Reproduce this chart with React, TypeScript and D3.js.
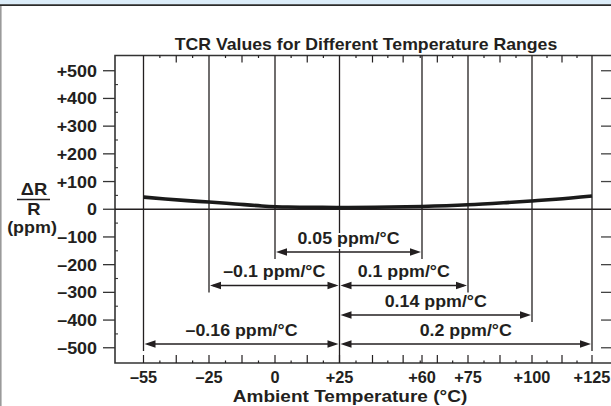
import React, { useEffect, useRef } from 'react';
import * as d3 from 'd3';

// temperature axis (piecewise, as drawn in the datasheet)
const xTickTemps = [-55, -25, 0, 25, 60, 75, 100, 125];
const xTickLabels = ['\u201355', '\u201325', '0', '+25', '+60', '+75', '+100', '+125'];
const xMinorTemps = [-40, -12.5, 12.5, 39, 52, 65, 87.5, 112.5];

const yTicks = [500, 400, 300, 200, 100, 0, -100, -200, -300, -400, -500];
const yTickLabels = ['+500', '+400', '+300', '+200', '+100', '0', '\u2013100', '\u2013200', '\u2013300', '\u2013400', '\u2013500'];

// dR/R curve (ppm)
const curveTemps = [-55, -45, -35, -25, -15, -5, 5, 15, 25, 40, 60, 75, 90, 100, 110, 125];
const curvePpm = [44, 37, 31, 26, 19, 12, 8, 7, 6, 7, 10, 16, 24, 30, 36, 48];

// TCR ranges
const rangeFrom = [0, -25, 25, 25, -55, 25];
const rangeTo = [60, 25, 75, 100, 25, 125];
const rangeRow = [0, 1, 1, 2, 3, 3];
const rangeLabels = ['0.05 ppm/\u00b0C', '\u20130.1 ppm/\u00b0C', '0.1 ppm/\u00b0C', '0.14 ppm/\u00b0C', '\u20130.16 ppm/\u00b0C', '0.2 ppm/\u00b0C'];

const W = 611;
const H = 406;
const FONT = '"Liberation Sans", Arial, Helvetica, sans-serif';
const INK = '#231f20';

const App = () => {
  const ref = useRef(null);

  useEffect(() => {
    const svg = d3.select(ref.current);
    svg.selectAll('*').remove();

    const x = d3.scaleLinear()
      .domain(xTickTemps)
      .range([143.5, 209, 275, 339.5, 422, 468, 532, 592]);
    const y = d3.scaleLinear().domain([-555, 555]).range([363, 55.5]);

    const left = 115;
    const top = y(555);
    const bottom = y(-555);
    const rowY = [252, 285.5, 315, 344];

    const text = (g, tx, ty, s, size, anchor, sx = 1) => g.append('text')
      .attr('transform', `translate(${tx},${ty}) scale(${sx},1)`)
      .attr('text-anchor', anchor)
      .attr('font-family', FONT)
      .attr('font-weight', 'bold')
      .attr('font-size', size)
      .attr('fill', INK)
      .text(s);

    // page frame
    svg.append('rect').attr('x', 0).attr('y', 0).attr('width', W).attr('height', 4.5).attr('fill', '#dcedf9');
    svg.append('line').attr('x1', 0).attr('x2', W).attr('y1', 5.2).attr('y2', 5.2)
      .attr('stroke', '#2b2b2b').attr('stroke-width', 1.8);
    svg.append('line').attr('x1', 0.8).attr('x2', 0.8).attr('y1', 6).attr('y2', H)
      .attr('stroke', '#9a9a9a').attr('stroke-width', 1.6);

    text(svg, 366, 50, 'TCR Values for Different Temperature Ranges', 17, 'middle', 1.04);

    const g = svg.append('g');

    // plot box (right side runs off the page)
    g.append('path')
      .attr('d', `M${W + 20},${top}H${left}V${bottom}H${W + 20}`)
      .attr('fill', 'none').attr('stroke', '#333').attr('stroke-width', 1.6);

    // zero line
    g.append('line').attr('x1', left).attr('x2', W).attr('y1', y(0)).attr('y2', y(0))
      .attr('stroke', INK).attr('stroke-width', 1.5);

    // grid ticks on top / bottom
    const grid = [...xTickTemps.filter(t => t !== 60), ...xMinorTemps].sort((a, b) => a - b);
    g.selectAll('.tmin').data(xMinorTemps).enter().append('line')
      .attr('x1', d => x(d)).attr('x2', d => x(d)).attr('y1', top).attr('y2', top + 7)
      .attr('stroke', INK).attr('stroke-width', 1.2);
    g.selectAll('.bmaj').data([...grid, 60]).enter().append('line')
      .attr('x1', d => x(d)).attr('x2', d => x(d)).attr('y1', bottom - 8).attr('y2', bottom)
      .attr('stroke', INK).attr('stroke-width', 1.2);
    const mids = d3.pairs(grid).map(([a, b]) => (x(a) + x(b)) / 2);
    [top, bottom].forEach((yy, i) => {
      g.selectAll(`.tiny${i}`).data(mids).enter().append('line')
        .attr('x1', d => d).attr('x2', d => d)
        .attr('y1', yy).attr('y2', i === 0 ? yy + 2.5 : yy - 2.5)
        .attr('stroke', INK).attr('stroke-width', 1.2);
    });

    // y ticks
    g.selectAll('.yt').data(yTicks).enter().append('line')
      .attr('x1', left - 12).attr('x2', left).attr('y1', d => y(d)).attr('y2', d => y(d))
      .attr('stroke', '#333').attr('stroke-width', 1.3);
    g.selectAll('.ym').data(yTicks.slice(0, -1)).enter().append('line')
      .attr('x1', left).attr('x2', left + 3).attr('y1', d => y(d - 50)).attr('y2', d => y(d - 50))
      .attr('stroke', '#333').attr('stroke-width', 1.1);
    g.selectAll('.yr').data(yTicks.filter(d => d !== 0)).enter().append('line')
      .attr('x1', 601).attr('x2', 614).attr('y1', d => y(d)).attr('y2', d => y(d))
      .attr('stroke', '#444').attr('stroke-width', 1.3);
    yTicks.forEach((t, i) => text(g, 97, y(t) + 6, yTickLabels[i], 16, 'end', 1.12));

    // vertical boundary lines
    const lowest = (t) => {
      const rows = rangeRow.filter((r, i) => rangeFrom[i] === t || rangeTo[i] === t);
      return t === 25 ? bottom : rowY[d3.max(rows)] + 7;
    };
    g.selectAll('.vl').data(xTickTemps).enter().append('line')
      .attr('x1', d => x(d)).attr('x2', d => x(d))
      .attr('y1', top).attr('y2', d => lowest(d))
      .attr('stroke', INK).attr('stroke-width', 1.3);

    // x labels
    xTickTemps.forEach((t, i) => text(g, x(t), 382.5, xTickLabels[i], 16, 'middle', 1.02));
    text(g, 350, 401.5, 'Ambient Temperature (\u00b0C)', 17, 'middle', 1.12);

    // y axis title
    text(g, 34, 195, '\u0394R', 16, 'middle', 1.15);
    g.append('line').attr('x1', 17).attr('x2', 50).attr('y1', 199.5).attr('y2', 199.5)
      .attr('stroke', INK).attr('stroke-width', 1.4);
    text(g, 34, 215, 'R', 16, 'middle', 1.15);
    text(g, 32, 233, '(ppm)', 16, 'middle', 1.12);

    // curve
    const line = d3.line()
      .x((d, i) => x(curveTemps[i]))
      .y(d => y(d))
      .curve(d3.curveMonotoneX);
    g.append('path').datum(curvePpm)
      .attr('d', line)
      .attr('fill', 'none').attr('stroke', '#1a1a1a').attr('stroke-width', 3.6);

    // range arrows
    const head = (px, py, dir) => `M${px},${py}L${px - dir * 11},${py - 3.8}L${px - dir * 11},${py + 3.8}Z`;
    rangeFrom.forEach((f, i) => {
      const x1 = x(f);
      const x2 = x(rangeTo[i]);
      const yy = rowY[rangeRow[i]];
      g.append('line').attr('x1', x1 + 4).attr('x2', x2 - 4).attr('y1', yy).attr('y2', yy)
        .attr('stroke', INK).attr('stroke-width', 1.4);
      g.append('path').attr('d', head(x1 + 1, yy, -1)).attr('fill', INK);
      g.append('path').attr('d', head(x2 - 1, yy, 1)).attr('fill', INK);
      text(g, (x1 + x2) / 2, yy - 8.5, rangeLabels[i], 16.5, 'middle', 1.08)
        .attr('stroke', '#fff').attr('stroke-width', 4).attr('paint-order', 'stroke');
    });
  }, []);

  return (
    <svg ref={ref} width={W} height={H}
      style={{ position: 'absolute', left: 0, top: 0, background: '#fff', display: 'block' }} />
  );
};

export default App;
